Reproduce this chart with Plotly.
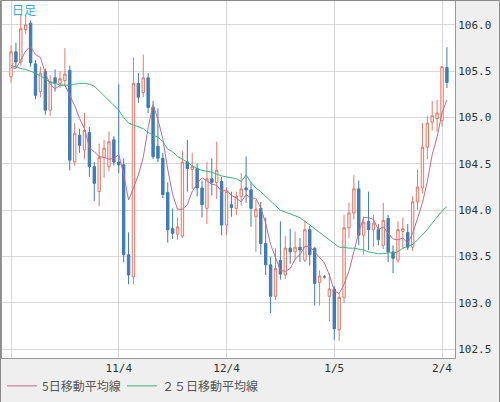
import pandas as pd
import plotly.graph_objects as go

# daily candles, 2020-10-05 .. 2021-02-05 (weekdays)
dates = [d.strftime("%Y-%m-%d") for d in pd.bdate_range("2020-10-05", "2021-02-05")]

opens = [105.44, 105.71, 105.60, 105.95, 106.02, 105.58, 105.28, 105.50, 105.08, 105.43,
         105.37, 105.40, 105.51, 104.52, 104.81, 104.65, 104.84, 104.47, 104.20, 104.57,
         104.47, 104.76, 104.52, 104.49, 103.52, 103.28, 105.37, 105.27, 105.43, 105.11,
         104.69, 104.56, 104.19, 103.80, 103.74, 103.72, 104.52, 104.44, 104.45, 104.24,
         104.02, 104.34, 104.30, 104.31, 103.84, 104.06, 104.02, 104.15, 104.24, 104.22,
         103.93, 104.02, 103.64, 103.41, 103.07, 103.46, 103.30, 103.59, 103.55, 103.60,
         103.46, 103.79, 103.59, 103.22, 103.28, 103.07, 103.15, 102.71, 103.06, 103.81,
         103.97, 104.23, 103.73, 103.88, 103.79, 103.79, 103.62, 103.91, 103.55, 103.46,
         103.77, 103.76, 103.60, 104.09, 104.24, 104.68, 104.95, 104.99, 104.97, 105.54]
highs = [105.78, 105.81, 106.11, 106.11, 106.05, 105.62, 105.55, 105.53, 105.46, 105.52,
         105.50, 105.75, 105.56, 104.94, 104.88, 105.05, 104.90, 104.52, 104.72, 104.76,
         104.85, 104.80, 105.36, 104.56, 103.76, 105.65, 105.48, 105.68, 105.48, 105.18,
         105.10, 104.62, 104.30, 104.02, 103.92, 104.64, 104.76, 104.62, 104.50, 104.32,
         104.52, 104.56, 104.74, 104.36, 104.25, 104.20, 104.20, 104.40, 104.58, 104.30,
         104.11, 104.09, 103.92, 103.50, 103.59, 103.88, 103.72, 103.80, 103.77, 103.70,
         103.89, 103.83, 103.60, 103.35, 103.30, 103.32, 103.18, 103.10, 103.95, 104.08,
         104.38, 104.32, 103.93, 104.20, 103.95, 103.85, 104.08, 103.95, 103.62, 103.88,
         103.92, 103.85, 104.15, 104.44, 104.94, 105.02, 105.18, 105.19, 105.55, 105.76]
lows = [105.38, 105.53, 105.56, 105.90, 105.55, 105.20, 105.22, 105.03, 105.02, 105.28,
        105.32, 105.35, 104.43, 104.48, 104.62, 104.55, 104.36, 104.10, 104.04, 104.35,
        104.42, 104.48, 104.40, 103.44, 103.20, 103.20, 105.16, 105.22, 105.05, 104.55,
        104.52, 104.13, 103.65, 103.69, 103.68, 103.70, 104.20, 104.23, 104.15, 103.92,
        103.85, 104.16, 104.12, 103.73, 103.73, 103.93, 103.95, 104.05, 104.08, 103.82,
        103.55, 103.52, 103.30, 102.89, 103.03, 103.25, 103.26, 103.42, 103.46, 103.44,
        103.44, 103.40, 102.97, 102.97, 103.26, 102.80, 102.60, 102.59, 103.00, 103.70,
        103.90, 103.62, 103.52, 103.57, 103.60, 103.62, 103.58, 103.44, 103.32, 103.43,
        103.58, 103.57, 103.56, 104.00, 104.18, 104.55, 104.86, 104.85, 104.90, 105.32]
closes = [105.71, 105.60, 105.96, 106.00, 105.59, 105.24, 105.48, 105.08, 105.39, 105.37,
          105.42, 105.47, 104.54, 104.83, 104.70, 104.86, 104.47, 104.29, 104.57, 104.67,
          104.74, 104.52, 104.49, 103.52, 103.30, 105.37, 105.22, 105.43, 105.11, 104.58,
          104.56, 104.17, 103.79, 103.75, 103.82, 104.52, 104.45, 104.47, 104.24, 104.06,
          104.34, 104.30, 104.43, 103.84, 104.20, 104.03, 104.15, 104.23, 104.22, 104.02,
          104.01, 103.64, 103.41, 103.07, 103.37, 103.31, 103.59, 103.55, 103.60, 103.57,
          103.79, 103.52, 103.21, 103.29, 103.28, 103.15, 102.72, 103.06, 103.81, 103.97,
          104.23, 103.73, 103.87, 103.79, 103.86, 103.68, 103.89, 103.55, 103.48, 103.79,
          103.80, 103.60, 104.09, 104.25, 104.68, 104.94, 105.02, 105.05, 105.55, 105.38]

ma5 = [105.54, 105.53, 105.62, 105.72, 105.77, 105.68, 105.65, 105.48, 105.36, 105.31,
       105.35, 105.35, 105.24, 105.13, 104.99, 104.88, 104.68, 104.63, 104.58, 104.57,
       104.55, 104.56, 104.60, 104.39, 104.11, 104.24, 104.38, 104.57, 104.89, 105.14,
       104.98, 104.77, 104.44, 104.17, 104.01, 104.01, 104.06, 104.20, 104.29, 104.35,
       104.31, 104.28, 104.27, 104.20, 104.22, 104.16, 104.13, 104.09, 104.17, 104.13,
       104.13, 104.02, 103.86, 103.63, 103.49, 103.35, 103.34, 103.37, 103.47, 103.52,
       103.61, 103.61, 103.55, 103.49, 103.43, 103.30, 103.13, 103.10, 103.20, 103.34,
       103.56, 103.76, 103.92, 103.92, 103.90, 103.79, 103.82, 103.75, 103.69, 103.68,
       103.70, 103.64, 103.75, 103.91, 104.08, 104.31, 104.60, 104.79, 105.05, 105.19]
ma25 = [105.56, 105.55, 105.53, 105.52, 105.50, 105.48, 105.45, 105.42, 105.38, 105.37,
        105.35, 105.35, 105.35, 105.36, 105.37, 105.37, 105.36, 105.34, 105.29, 105.24,
        105.19, 105.14, 105.08, 105.00, 104.94, 104.92, 104.90, 104.88, 104.84, 104.81,
        104.79, 104.74, 104.66, 104.63, 104.58, 104.55, 104.52, 104.48, 104.45, 104.43,
        104.42, 104.41, 104.39, 104.37, 104.36, 104.35, 104.34, 104.31, 104.38, 104.30,
        104.24, 104.20, 104.15, 104.10, 104.04, 104.00, 103.98, 103.96, 103.94, 103.92,
        103.88, 103.84, 103.80, 103.76, 103.72, 103.68, 103.64, 103.60, 103.60, 103.59,
        103.59, 103.58, 103.57, 103.55, 103.54, 103.53, 103.53, 103.54, 103.54, 103.55,
        103.59, 103.61, 103.63, 103.68, 103.73, 103.79, 103.86, 103.93, 103.99, 104.04]

tick_dates = ["2020-10-05", "2020-11-04", "2020-12-04", "2021-01-05", "2021-02-04"]
tick_text = ["", "11/4", "12/4", "1/5", "2/4"]
y_ticks = [102.5, 103.0, 103.5, 104.0, 104.5, 105.0, 105.5, 106.0]

fig = go.Figure()

fig.add_trace(go.Candlestick(
    x=dates, open=opens, high=highs, low=lows, close=closes,
    increasing=dict(line=dict(color="#e57a68", width=1), fillcolor="#fdf1ee"),
    decreasing=dict(line=dict(color="#3d7cb8", width=1), fillcolor="#3d7cb8"),
    whiskerwidth=0, showlegend=False, hoverinfo="skip",
))
fig.add_trace(go.Scatter(
    x=dates, y=ma5, mode="lines", name="5日移動平均線",
    line=dict(color="#c86a8c", width=1), legend="legend",
))
fig.add_trace(go.Scatter(
    x=dates, y=ma25, mode="lines", name="２５日移動平均線",
    line=dict(color="#3cb37e", width=1), legend="legend2",
))

# outer frame of the whole picture
pw, ph = 453, 357
fig.add_shape(type="rect", xref="paper", yref="paper",
              x0=-1.5 / pw, x1=497.5 / pw, y0=(357 - 401.5) / ph, y1=(357 + 0.5) / ph,
              line=dict(color="#8a8a8a", width=1), fillcolor="rgba(0,0,0,0)", layer="above")

fig.add_annotation(text="日足", xref="paper", yref="paper", x=8 / pw, y=(357 - 8) / ph,
                   xanchor="left", yanchor="middle", showarrow=False,
                   font=dict(family="Noto Sans CJK JP", size=12, color="#35acd8"))

legend_style = dict(orientation="h", y=-0.078, yanchor="middle", xanchor="left",
                    font=dict(family="Noto Sans CJK JP", size=12, color="#555555"),
                    bgcolor="rgba(0,0,0,0)", itemwidth=30)

fig.update_layout(
    width=500, height=402,
    margin=dict(l=2, r=45, t=1, b=44, autoexpand=False),
    paper_bgcolor="#efefef", plot_bgcolor="white",
    font=dict(family="DejaVu Sans Mono", size=11, color="#333333"),
    legend=dict(x=0.0, **legend_style),
    legend2=dict(x=120 / pw, **legend_style),
    xaxis=dict(type="category", range=[-1.84, 90.65], rangeslider=dict(visible=False),
               tickmode="array", tickvals=tick_dates, ticktext=tick_text,
               showgrid=True, gridcolor="#d9d9d9", gridwidth=1,
               showline=True, linecolor="#9a9a9a", mirror=True, ticks="",
               tickfont=dict(family="DejaVu Sans Mono", size=11, color="#333333")),
    yaxis=dict(range=[102.404, 106.259], side="right", tickmode="array",
               tickvals=y_ticks, ticktext=[f"{v:.1f}" for v in y_ticks],
               showgrid=True, gridcolor="#d9d9d9", gridwidth=1,
               showline=True, linecolor="#9a9a9a", mirror=True, ticks="",
               zeroline=False,
               tickfont=dict(family="DejaVu Sans Mono", size=11, color="#333333")),
)

fig.write_html("out.html", config={"displayModeBar": False},
               post_script="document.body.style.margin='0';")
